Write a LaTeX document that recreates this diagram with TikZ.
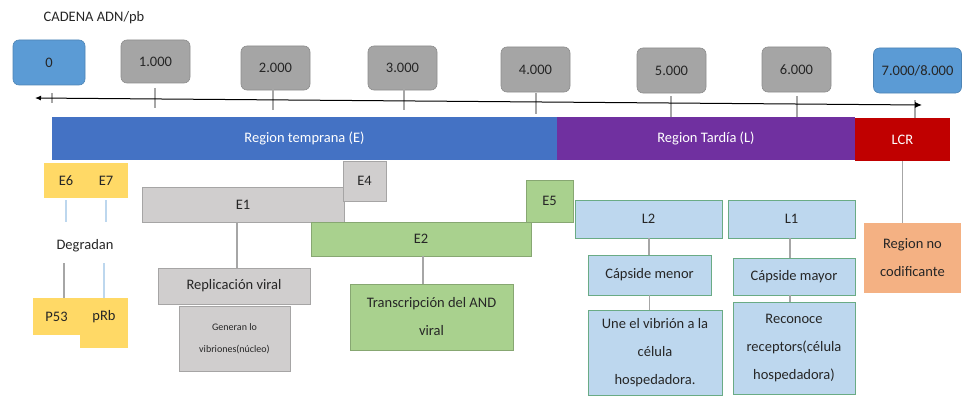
\documentclass[tikz,border=0pt]{standalone}
\usepackage{fontspec}
\setmainfont{Carlito}
\usetikzlibrary{arrows.meta}
\definecolor{tickblue}{HTML}{5B9BD5}
\definecolor{tickgray}{HTML}{A5A5A5}
\definecolor{regblue}{HTML}{4472C4}
\definecolor{regpurple}{HTML}{7030A0}
\definecolor{regred}{HTML}{C00000}
\definecolor{eyellow}{HTML}{FFD966}
\definecolor{egray}{HTML}{D0CECE}
\definecolor{egreen}{HTML}{A9D18E}
\definecolor{lblue}{HTML}{BDD7EE}
\definecolor{lorange}{HTML}{F4B183}
\definecolor{linegray}{HTML}{A6A6A6}
\definecolor{txt}{HTML}{262626}
\begin{document}
\begin{tikzpicture}[x=1pt,y=-1pt,
  every node/.style={font=\fontsize{14.5}{28}\selectfont, text=txt, inner sep=0pt},
  tickbox/.style={rounded corners=6pt, draw=#1!85!black, line width=0.6pt, fill=#1},
  bar/.style={fill=#1, draw=none, text=white},
  box/.style={fill=#1, draw=#1!80!black, line width=0.5pt, align=center},
  conn/.style={draw=linegray, line width=1.4pt},
  lconn/.style={draw=lblue, line width=1.4pt},
  tick/.style={draw=linegray, line width=1.2pt}
]
\useasboundingbox (0,0) rectangle (964,396);

\node (title) at (94,18) {CADENA ADN/pb};

% scale boxes
\node[tickbox=tickblue, minimum width=72pt, minimum height=45pt] (t0) at (49,62.5) {0};
\node[tickbox=tickgray, minimum width=69pt, minimum height=43pt] (t1) at (155.5,61.5) {1.000};
\node[tickbox=tickgray, minimum width=69pt, minimum height=44pt] (t2) at (275.5,68) {2.000};
\node[tickbox=tickgray, minimum width=69pt, minimum height=44pt] (t3) at (402.5,68) {3.000};
\node[tickbox=tickgray, minimum width=69pt, minimum height=45pt] (t4) at (535.5,69.5) {4.000};
\node[tickbox=tickgray, minimum width=69pt, minimum height=45pt] (t5) at (671.5,70.5) {5.000};
\node[tickbox=tickgray, minimum width=69pt, minimum height=45pt] (t6) at (796.5,69.5) {6.000};
\node[tickbox=tickblue, minimum width=88pt, minimum height=45pt] (t7) at (917.5,70.5) {7.000/8.000};

% axis
\coordinate (axL) at (35,98);
\coordinate (axR) at (922,105);
\draw[tick] (52,93) coordinate (k0a) -- (52,103) coordinate (k0b);
\draw[tick] (155,88) coordinate (k1a) -- (155,108) coordinate (k1b);
\draw[tick] (273,88) coordinate (k2a) -- (273,110) coordinate (k2b);
\draw[tick] (404,88) coordinate (k3a) -- (404,110) coordinate (k3b);
\draw[tick] (536,93) coordinate (k4a) -- (536,114) coordinate (k4b);
\draw[tick] (671,96) coordinate (k5a) -- (671,118) coordinate (k5b);
\draw[tick] (797,96) coordinate (k6a) -- (797,118) coordinate (k6b);
\draw[tick] (915,100) coordinate (k7a) -- (915,118) coordinate (k7b);
\draw[line width=1pt, {Latex[length=6pt,width=5pt]}-{Latex[length=7pt,width=6pt]}] (axL) -- (axR);

% regions
\node[bar=regblue, minimum width=505pt, minimum height=43pt] (regE) at (304.5,138.5) {\textcolor{white}{Region temprana (E)}};
\node[bar=regpurple, minimum width=298pt, minimum height=43pt] (regL) at (706,138.5) {\textcolor{white}{Region Tardía (L)}};
\node[bar=regred, minimum width=95pt, minimum height=43pt] (lcr) at (902.5,139.5) {\textcolor{white}{LCR}};

% E6/E7 group
\node[box=eyellow, draw=none, minimum width=84pt, minimum height=35pt] (e67) at (86,180.5) {};
\node (e6) at (66,181) {E6};
\node (e7) at (106,181) {E7};
\node (deg) at (85,246) {Degradan};
\coordinate (e6a) at (66,200); \coordinate (e6b) at (66,222);
\coordinate (e7a) at (106,200); \coordinate (e7b) at (106,222);
\draw[lconn] (e6a) -- (e6b);
\draw[lconn] (e7a) -- (e7b);
\node[box=eyellow, draw=none, minimum width=47pt, minimum height=37pt] (p53) at (56.5,316.5) {P53};
\node[box=eyellow, draw=none, minimum width=48pt, minimum height=50pt] (prb) at (104,323) {};
\node at (104,316.5) (prbt) {pRb};
\coordinate (d1) at (64,263); \coordinate (d2) at (104,263);
\draw[conn] (d1) -- (d1 |- p53.north);
\draw[lconn] (d2) -- (d2 |- prb.north);

% E1 / E4 group
\node[box=egray, minimum width=202pt, minimum height=35pt] (e1) at (243,204.5) {E1};
\node[box=egray, minimum width=43pt, minimum height=40pt] (e4) at (364.5,181) {E4};
\node[box=egray, minimum width=152pt, minimum height=36pt] (repl) at (234,286) {Replicación viral};
\node[box=egray, minimum width=111pt, minimum height=65pt, font=\fontsize{10}{22}\selectfont] (gen) at (234.5,338.5) {Generan lo\\vibriones(núcleo)};
\draw[conn] ([xshift=3pt]repl.north |- e1.south) -- ([xshift=3pt]repl.north);

% E2 / E5 group
\node[box=egreen, minimum width=220pt, minimum height=34pt] (e2) at (421,239) {E2};
\node[box=egreen, minimum width=47pt, minimum height=42pt] (e5) at (549.5,201) {E5};
\node[box=egreen, minimum width=163pt, minimum height=66pt] (trans) at (431.5,317) {Transcripción del AND\\viral};
\draw[conn] ([xshift=2pt]e2.south) -- ([xshift=2pt]e2.south |- trans.north);

% L group
\node[box=lblue, draw=lblue!70!black!80!green, minimum width=147pt, minimum height=38pt] (l2) at (648.5,219) {L2};
\node[box=lblue, draw=lblue!70!black!80!green, minimum width=127pt, minimum height=38pt] (l1) at (791.5,219) {L1};
\node[box=lblue, draw=lblue!70!black!80!green, minimum width=123pt, minimum height=40pt] (cmen) at (649.5,275) {Cápside menor};
\node[box=lblue, draw=lblue!70!black!80!green, minimum width=134pt, minimum height=85pt] (une) at (655,352.5) {Une el vibrión a la\\célula\\hospedadora.};
\node[box=lblue, draw=lblue!70!black!80!green, minimum width=122pt, minimum height=37pt] (cmay) at (794,276.5) {Cápside mayor};
\node[box=lblue, draw=lblue!70!black!80!green, minimum width=122pt, minimum height=92pt] (reco) at (794,348) {Reconoce\\receptors(célula\\hospedadora)};
\draw[conn] ([xshift=0.5pt]l2.south) -- ([xshift=0.5pt]l2.south |- cmen.north);
\draw[conn] (cmen.south) -- (cmen.south |- une.north);
\draw[conn] ([xshift=-1.5pt]l1.south) -- ([xshift=-1.5pt]l1.south |- cmay.north);
\draw[conn] ([xshift=-4pt]cmay.south) -- ([xshift=-4pt]cmay.south |- reco.north);

% LCR
\node[box=lorange, draw=none, minimum width=97pt, minimum height=70pt] (rnc) at (912.5,258) {Region no\\codificante};
\draw[conn] (lcr.south) -- (lcr.south |- rnc.north);
\end{tikzpicture}
\end{document}
